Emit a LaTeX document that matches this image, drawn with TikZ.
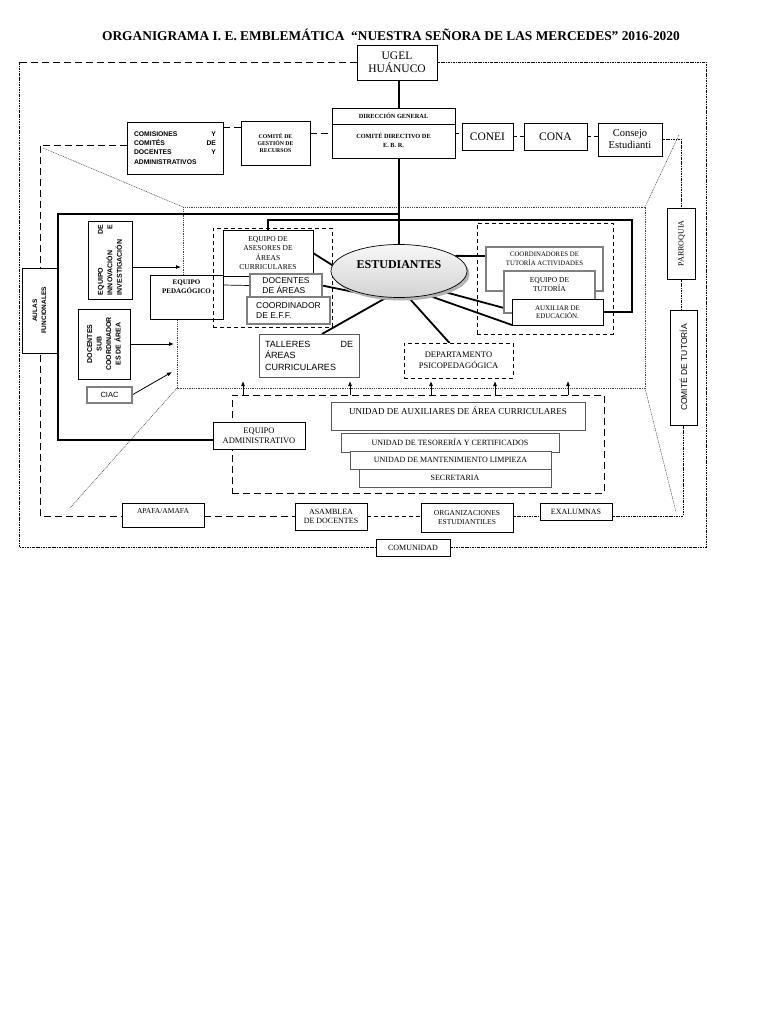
\documentclass[tikz,border=0pt]{standalone}
\usepackage{fontspec}
\setmainfont{Liberation Serif}
\setsansfont{Liberation Sans}
\usetikzlibrary{shapes.geometric,calc,arrows.meta}
\pgfdeclarelayer{bg}
\pgfdeclarelayer{paper}
\pgfsetlayers{paper,bg,main}
\newcommand{\fs}[2]{\fontsize{#1}{#2}\selectfont}
\newcommand{\Bx}[7][]{\node[box,minimum width={(#5-#3)*1pt},minimum height={(#6-#4)*1pt},#1] (#2) at ({(#3+#5)/2},{(#4+#6)/2}) {#7};}
\begin{document}
\begin{tikzpicture}[x=1pt,y=-1pt,
  box/.style={draw,line width=0.7pt,inner sep=0.5pt,outer sep=0pt,align=center,fill=white},
  gbox/.style={draw=black!50,line width=1.2pt},
  spine/.style={line width=2.3pt},
  frame/.style={line width=2pt},
  link/.style={line width=1.8pt},
  ldash/.style={line width=0.7pt,dash pattern=on 7pt off 4pt},
  sdash/.style={line width=0.7pt,dash pattern=on 4pt off 3pt},
  ddot/.style={line width=0.6pt,dash pattern=on 2.5pt off 1pt on 0.8pt off 1pt},
  fdot/.style={line width=0.5pt,black!75,dash pattern=on 1pt off 0.8pt},
  arr/.style={-{Latex[length=5pt,width=4pt]},line width=0.8pt}]
\useasboundingbox (0,0) rectangle (768,1024);
\begin{pgfonlayer}{paper}
\fill[white] (0,0) rectangle (768,1024);
\end{pgfonlayer}

\node[font=\bfseries\fs{13.4}{15}] (title) at (391,35) {ORGANIGRAMA I. E. EMBLEMÁTICA \ “NUESTRA SEÑORA DE LAS MERCEDES” 2016-2020};

\coordinate (oTL) at (19,62);
\coordinate (oTR) at (706,62);
\coordinate (sTL) at (40,145);
\coordinate (sBL) at (40,516);
\coordinate (iTL) at (183,207);
\coordinate (iTR) at (645,207);
\coordinate (iBR) at (645,388);
\coordinate (iBL) at (177,388);
\coordinate (p1) at (43,148);
\coordinate (p2) at (679,135);
\coordinate (p3) at (676,512);
\coordinate (p4) at (70,508);
\coordinate (fTL) at (58,214);
\coordinate (fTR) at (399,214);
\coordinate (g1) at (632,220);
\coordinate (ainn) at (181,267);
\coordinate (adoc) at (174,344);
\coordinate (aciac) at (172,372);

% top
\Bx[font=\fs{11.5}{12.5}]{ugel}{357}{45}{437}{80}{UGEL\\HUÁNUCO}
\Bx{dir}{332}{108}{455}{158}{}
\draw[line width=0.7pt] ($(dir.north west)+(0,16)$) -- ($(dir.north east)+(0,16)$);
\node[font=\bfseries\fs{6.3}{8}] (dirt1) at ($(dir.north)+(0,8)$) {DIRECCIÓN GENERAL};
\node[font=\bfseries\fs{6.3}{9},align=center] (dirt2) at ($(dir.north)+(0,32)$) {COMITÉ DIRECTIVO DE\\E. B. R.};
\Bx[font=\fs{11.5}{12}]{conei}{462}{123}{513}{150}{CONEI}
\Bx[font=\fs{11.5}{12}]{cona}{524}{123}{587}{150}{CONA}
\Bx[font=\fs{10.5}{12}]{cons}{598}{123}{662}{156}{Consejo\\Estudianti}
\Bx[font=\sffamily\bfseries\fs{6.8}{9.3},text width=82pt,align=left]{com}{127}{122}{223}{174}{COMISIONES\hfill Y\\COMITÉS\hfill DE\\DOCENTES\hfill Y\\ADMINISTRATIVOS}
\Bx[font=\bfseries\fs{5.8}{7}]{cgr}{241}{121}{310}{165}{COMITÉ DE\\GESTIÓN DE\\RECURSOS}

% left side
\node[box,rotate=90,minimum width=85pt,minimum height=35pt,font=\sffamily\bfseries\fs{6.5}{9}] (aulas) at (39.5,310.5) {AULAS\\FUNCIONALES};
\node[box,rotate=90,minimum width=78pt,minimum height=44pt,text width=70pt,align=left,font=\sffamily\bfseries\fs{7}{9.5}] (innov) at (110,260) {EQUIPO\hfill DE\\INNOVACIÓN\hfill E\\INVESTIGACIÓN};
\node[box,rotate=90,minimum width=70pt,minimum height=52pt,font=\sffamily\bfseries\fs{7}{9.5}] (docsub) at (104,344) {DOCENTES\\SUB\\COORDINADOR\\ES DE ÁREA};
\Bx[gbox,font=\sffamily\fs{7.5}{9}]{ciac}{87}{387}{132}{403}{CIAC}
\Bx{ped}{150}{275}{223}{319}{}
\node[font=\bfseries\fs{7}{9},align=center] (pedt) at ($(ped.north)+(0,12)$) {EQUIPO\\PEDAGÓGICO};

% asesores group
\Bx[sdash,fill=none]{gasr}{213}{228}{332}{327}{}
\Bx[font=\fs{7.5}{9.5}]{ases}{223}{230}{313}{276}{EQUIPO DE\\ASESORES DE\\ÁREAS\\CURRICULARES}
\Bx[gbox,font=\sffamily\fs{8.5}{10},align=left]{docs}{250}{274}{322}{297}{DOCENTES\\DE ÁREAS}
\Bx[gbox,font=\sffamily\fs{8.5}{10},align=left]{coord}{247}{297}{330}{324}{COORDINADOR\\DE E.F.F.}
\Bx[draw=black!65,font=\sffamily\fs{9}{11.5},text width=88pt,align=left]{tall}{259}{334}{359}{377}{TALLERES\hfill DE\\ÁREAS\\CURRICULARES}
\Bx[sdash,font=\fs{8.5}{11}]{dep}{404}{343}{513}{378}{DEPARTAMENTO\\PSICOPEDAGÓGICA}

% ellipse
\fill[gray!60] (401.5,274) ellipse [x radius=68, y radius=26.5];
\node[ellipse,draw,line width=0.7pt,top color=gray!6,bottom color=gray!35,minimum width=136pt,minimum height=53pt,inner sep=0pt] (est) at (399,271) {};
\node[font=\bfseries\fs{12}{13}] (estt) at (399,265) {ESTUDIANTES};

% tutoria group
\Bx[sdash,fill=none]{gtut}{477}{223}{613}{334}{}
\Bx[gbox]{coort}{486}{247}{603}{291}{}
\node[font=\fs{6.8}{8.5},align=center] (coortt) at ($(coort.north)+(0,12)$) {COORDINADORES DE\\TUTORÍA ACTIVIDADES};
\Bx[gbox]{eqt}{504}{271}{595}{313}{}
\node[font=\fs{7.5}{9},align=center] (eqtt) at ($(eqt.north)+(0,14)$) {EQUIPO DE\\TUTORÍA};
\Bx[font=\fs{7}{8.5}]{aux}{512}{299}{603}{325}{AUXILIAR DE\\EDUCACIÓN.}

% right side
\node[box,rotate=90,minimum width=71pt,minimum height=28pt,font=\fs{8}{9}] (par) at (681.5,243.5) {PARROQUIA};
\node[box,rotate=90,minimum width=115pt,minimum height=27pt,font=\sffamily\fs{8.5}{9}] (ctut) at (683.5,367.5) {COMITÉ DE TUTORÍA};

% administrative
\Bx[ldash,fill=none]{admb}{232}{395}{604}{493}{}
\Bx[font=\fs{8.5}{10}]{eadm}{213}{422}{305}{449}{EQUIPO\\ADMINISTRATIVO}
\Bx[draw=black!65,font=\fs{9}{10},text height=10pt,text depth=14pt]{unaux}{331}{402}{585}{430}{UNIDAD DE AUXILIARES DE ÁREA CURRICULARES}
\Bx[draw=black!65,font=\fs{8}{9}]{unteso}{341}{433}{559}{452}{UNIDAD DE TESORERÍA Y CERTIFICADOS}
\Bx[draw=black!65,font=\fs{8}{9}]{unman}{350}{451}{551}{469}{UNIDAD DE MANTENIMIENTO LIMPIEZA}
\Bx[draw=black!65,font=\fs{8}{9}]{unsec}{359}{469}{551}{487}{SECRETARIA}

% bottom row
\Bx[font=\fs{7.5}{9},text height=9pt,text depth=12pt]{apafa}{122}{503}{204}{527}{APAFA/AMAFA}
\Bx[font=\fs{8}{9.5}]{asam}{295}{503}{367}{530}{ASAMBLEA\\DE DOCENTES}
\Bx[font=\fs{7.5}{9.5}]{orge}{421}{503}{513}{532}{ORGANIZACIONES\\ESTUDIANTILES}
\Bx[font=\fs{8}{9}]{exal}{540}{503}{612}{520}{EXALUMNAS}
\Bx[font=\fs{8}{9}]{comu}{376}{539}{450}{556}{COMUNIDAD}

\begin{pgfonlayer}{bg}
% outer frame
\draw[ldash] (ugel.west) -- (ugel.west -| oTL);
\draw[ddot] (ugel.west -| oTL) -- (comu.west -| oTL) -- (comu.west);
\draw[ddot] (ugel.east) -- (ugel.east -| oTR) -- (comu.east -| oTR) -- (comu.east);
% second frame
\draw[ldash] (com.west |- sTL) -- (sTL) -- (sBL) -- (sBL -| apafa.west);
\draw[ldash] ($(com.north east)+(0,5)$) -- ($(cgr.north west)+(0,6)$);
\draw[ldash] (dir.west -| cgr.east) -- (dir.west);
\draw[sdash] (dir.east) -- (dir.east -| conei.west);
\draw[sdash] (conei.east) -- (cona.west);
\draw[sdash] (cona.east) -- (cona.east -| cons.west);
\draw[ddot] (cons.east) -| (par.east);
\draw[ddot] (par.west) -- (par.west |- ctut.east);
\draw[ldash] (apafa.east |- sBL) -- (asam.west |- sBL);
\draw[sdash] (asam.east |- sBL) -- (orge.west |- sBL);
\draw[ddot] (orge.east |- sBL) -- (exal.west |- sBL);
\draw[ddot] (exal.east |- sBL) -| (ctut.west);
% inner perspective
\draw[fdot] (iTL |- ped.north) -- (iTL) -- (iTR) -- (iBR) -- (iBL) -- (iBL |- ped.south);
\draw[fdot] (p1) -- (iTL);
\draw[fdot] (p2) -- (iTR);
\draw[fdot] (iBR) -- (p3);
\draw[fdot] (iBL) -- (p4);
% spine and frames
\draw[spine] (ugel.south -| est.north) -- (dir.north -| est.north);
\draw[spine] (dir.south -| est.north) -- (est.north);
\draw[frame] ($(eadm.west)+(0,4)$) -| (fTL) -- (fTR);
\draw[frame] (ases.north) |- (g1) |- (aux.east);
% links
\draw[line width=0.7pt] ($(ped.north east)+(0,10)$) -- (docs.west);
\draw[link] (ases.east) -- (est.175);
\draw[link] (docs.east) -- (est.222);
\draw[link] ($(tall.north)+(13,0)$) -- (est.245);
\draw[link] ($(dep.north)+(-9,0)$) -- (est.290);
\draw[link] (est.15) -- ($(coort.north west)+(0,9)$);
\draw[link] (est.-25) -- ($(eqt.south west)+(0,-5)$);
\draw[link] (est.-40) -- (aux.south west);
% arrows
\draw[arr] (innov.south |- ainn) -- (ainn);
\draw[arr] (docsub.south |- adoc) -- (adoc);
\draw[arr] (ciac.east) -- (aciac);
\foreach \i/\xx in {1/243,2/350,3/431,4/495,5/568}{
  \coordinate (up\i) at (\xx,381);
  \draw[arr] (up\i |- admb.north) -- (up\i);
}
\end{pgfonlayer}
\end{tikzpicture}
\end{document}
